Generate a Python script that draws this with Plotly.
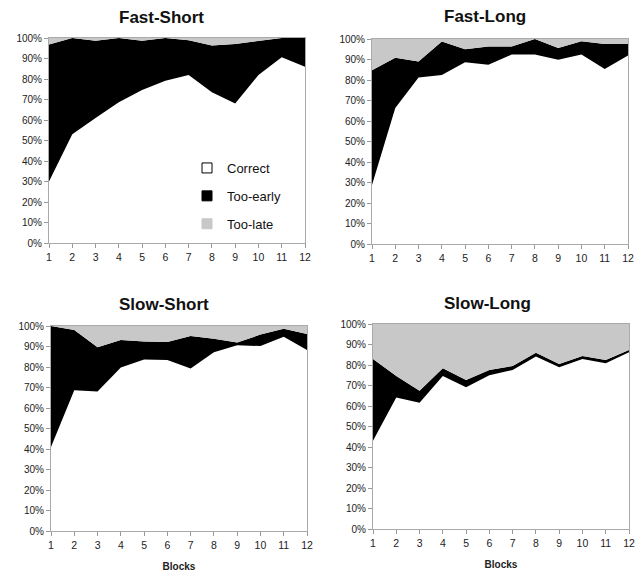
import plotly.graph_objects as go

blocks = list(range(1, 13))
tick_vals = [0, 10, 20, 30, 40, 50, 60, 70, 80, 90, 100]
tick_text = ["0%", "10%", "20%", "30%", "40%", "50%", "60%", "70%", "80%", "90%", "100%"]

panel_titles = ["Fast-Short", "Fast-Long", "Slow-Short", "Slow-Long"]
series_names = ["Correct", "Too-early", "Too-late"]

fast_short_correct = [30, 53, 61, 68.6, 74.6, 79.2, 82, 73.5, 68, 82, 90.6, 86]
fast_short_early = [66.8, 47, 37.7, 31.4, 24.1, 20.8, 16.9, 22.9, 29.1, 16.7, 9.4, 14]
fast_short_late = [3.2, 0, 1.3, 0, 1.3, 0, 1.1, 3.6, 2.9, 1.3, 0, 0]

fast_long_correct = [28.8, 66.3, 81.2, 82.4, 88.7, 87.5, 92.4, 92.4, 89.9, 92.4, 85.4, 91.9]
fast_long_early = [55.9, 24.5, 7.8, 16.4, 6.3, 8.8, 4.0, 7.6, 5.7, 6.5, 12.2, 5.7]
fast_long_late = [15.3, 9.2, 11, 1.2, 5, 3.7, 3.6, 0, 4.4, 1.1, 2.4, 2.4]

slow_short_correct = [41, 68.6, 68, 79.8, 83.7, 83.4, 79.3, 87.2, 90.6, 90.2, 94.8, 88.3]
slow_short_early = [59, 29.4, 21.6, 13.4, 8.8, 8.8, 15.8, 6.6, 1.3, 5.6, 3.9, 7.8]
slow_short_late = [0, 2, 10.4, 6.8, 7.5, 7.8, 4.9, 6.2, 8.1, 4.2, 1.3, 3.9]

slow_long_correct = [43.1, 64.2, 61.6, 74.6, 69.1, 75, 77.6, 84.1, 78.9, 82.9, 80.8, 86.2]
slow_long_early = [39.8, 10.4, 5.9, 3.8, 3.6, 2.6, 1.9, 1.9, 1.6, 1.5, 1.6, 1.1]
slow_long_late = [17.1, 25.4, 32.5, 21.6, 27.3, 22.4, 20.5, 14, 19.5, 15.6, 17.6, 12.7]

panels = [
    (fast_short_correct, fast_short_early, fast_short_late),
    (fast_long_correct, fast_long_early, fast_long_late),
    (slow_short_correct, slow_short_early, slow_short_late),
    (slow_long_correct, slow_long_early, slow_long_late),
]

W, H = 640, 575
# pixel boxes: (left, right, top, bottom)
boxes = [(49, 305, 38, 243), (372, 628, 39, 244), (51, 307, 326, 531), (373, 629, 324, 529)]
title_pos = [(161, 17), (485, 16), (164, 304), (487, 303)]
fills = ["#ffffff", "#000000", "#c8c8c8"]
FONT = "Liberation Sans"

fig = go.Figure()
layout = dict(width=W, height=H, margin=dict(l=0, r=0, t=0, b=0, autoexpand=False),
              paper_bgcolor="white", plot_bgcolor="white", showlegend=True,
              font=dict(family=FONT, color="#222222"))
annotations = []

for i, (vals, box, tp, title) in enumerate(zip(panels, boxes, title_pos, panel_titles)):
    n = "" if i == 0 else str(i + 1)
    xa, ya = "x" + n, "y" + n
    for name, v, c in zip(series_names, vals, fills):
        fig.add_trace(go.Scatter(x=blocks, y=v, name=name, stackgroup="s%d" % i,
                                 mode="lines", line=dict(width=0, color=c), fillcolor=c,
                                 showlegend=False, xaxis=xa, yaxis=ya, hoverinfo="skip"))
    l, r, t, b = box
    xdict = dict(domain=[l / W, r / W], range=[1, 12], tickvals=blocks, automargin=False,
                 ticks="outside", ticklen=4, tickcolor="#999999",
                 showline=True, linecolor="#aaaaaa", mirror=True, showgrid=False, zeroline=False,
                 tickfont=dict(size=10.5, family=FONT, color="#222222"), anchor=ya, fixedrange=True)
    ydict = dict(domain=[1 - b / H, 1 - t / H], range=[0, 100], tickvals=tick_vals, ticktext=tick_text,
                 ticks="outside", ticklen=4, tickcolor="#999999", automargin=False,
                 showline=True, linecolor="#aaaaaa", mirror=True, showgrid=False, zeroline=False,
                 tickfont=dict(size=10, family=FONT, color="#222222"), anchor=xa, fixedrange=True)
    if i >= 2:
        xdict["title"] = dict(text="<b>Blocks</b>", font=dict(size=10, family=FONT, color="#222222"), standoff=13)
    layout["xaxis" + n] = xdict
    layout["yaxis" + n] = ydict
    annotations.append(dict(text="<b>%s</b>" % title, x=tp[0] / W, y=1 - tp[1] / H,
                            xref="paper", yref="paper", showarrow=False,
                            xanchor="center", yanchor="middle",
                            font=dict(size=17, family=FONT, color="#111111")))

# legend entries (square swatches)
legend_styles = [("#ffffff", "#000000"), ("#000000", "#000000"), ("#c8c8c8", "#c8c8c8")]
for name, (fc, lc) in zip(series_names, legend_styles):
    fig.add_trace(go.Scatter(x=[None], y=[None], name=name, mode="markers", legendgroup=name,
                             marker=dict(symbol="square", size=10, color=fc, line=dict(color=lc, width=1)),
                             xaxis="x", yaxis="y"))

layout["annotations"] = annotations
layout["legend"] = dict(x=187 / W, y=1 - 153 / H, xanchor="left", yanchor="top",
                        bgcolor="rgba(255,255,255,0)", traceorder="grouped", tracegroupgap=8,
                        itemwidth=30, font=dict(size=13, family=FONT, color="#111111"))
fig.update_layout(**layout)
fig.write_html("out.html", config={"displayModeBar": False, "staticPlot": True},
               post_script="document.body.style.margin='0';document.body.style.overflow='hidden';")
